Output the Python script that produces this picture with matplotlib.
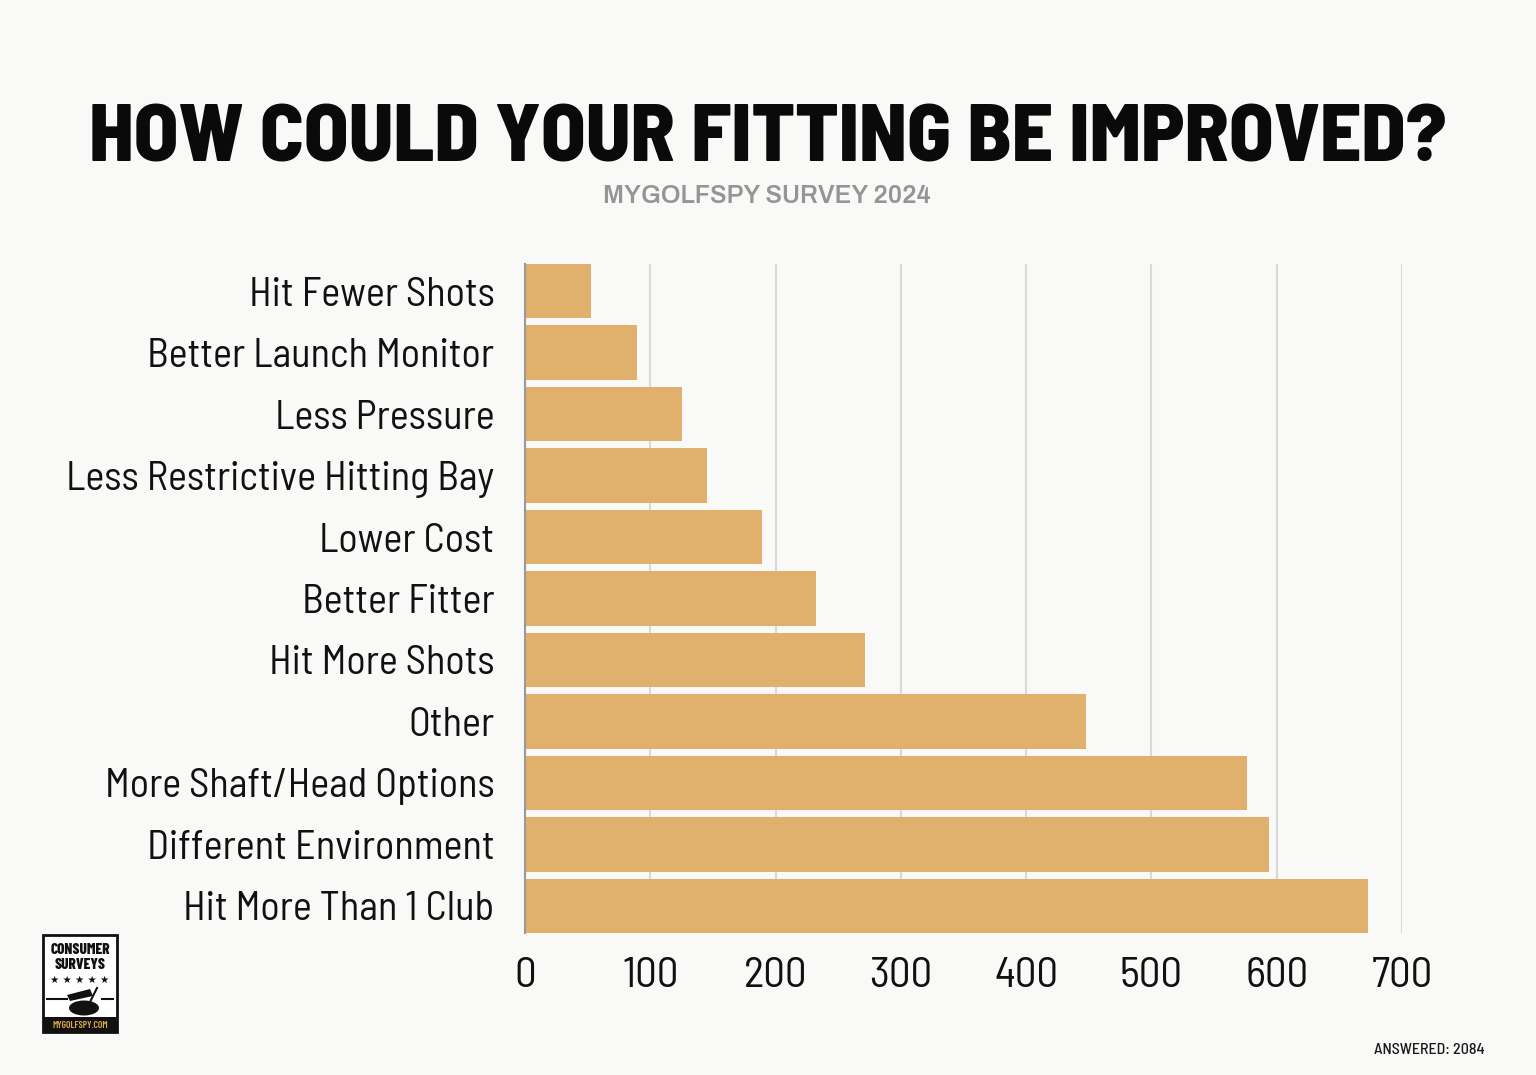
import matplotlib
matplotlib.use("Agg")
import matplotlib.pyplot as plt
from matplotlib import font_manager as fm
from matplotlib.patches import Rectangle, Ellipse, Polygon

categories = ["Hit Fewer Shots", "Better Launch Monitor", "Less Pressure",
              "Less Restrictive Hitting Bay", "Lower Cost", "Better Fitter",
              "Hit More Shots", "Other", "More Shaft/Head Options",
              "Different Environment", "Hit More Than 1 Club"]
values = [53, 89, 125, 145, 189, 232, 271, 448, 576, 594, 673]
x_ticks = [0, 100, 200, 300, 400, 500, 600, 700]
title = "HOW COULD YOUR FITTING BE IMPROVED?"
subtitle = "MYGOLFSPY SURVEY 2024"
answered = "ANSWERED: 2084"

entries = fm.fontManager.ttflist
names = {f.name for f in entries}
def pick(prefs):
    for p in prefs:
        if p in names:
            return p
    return "DejaVu Sans"
def has_bold(p):
    return any(f.name == p and f.weight in (600, 700, 800, "bold") for f in entries)
def best_weight(fam, target):
    ws = [f.weight for f in entries if f.name == fam and isinstance(f.weight, int)]
    if not ws:
        return "bold"
    return min(ws, key=lambda w: abs(w - target))

TITLE_F = pick(["Barlow Semi Condensed", "Barlow Condensed", "Roboto Condensed"])
LABEL_F = pick(["Barlow Semi Condensed", "Barlow Condensed", "Roboto Condensed"])
LOGO_F = pick(["Barlow Condensed", "Roboto Condensed"])
TITLE_W = best_weight(TITLE_F, 800)
LOGO_W = best_weight(LOGO_F, 800)

BG = "#f9f9f8"
BAR = "#e0b06c"
W, H = 1536, 1075

fig = plt.figure(figsize=(W/100, H/100), dpi=100, facecolor=BG)
renderer = fig.canvas.get_renderer()

def fit_width(t, target_px):
    w = t.get_window_extent(renderer).width
    t.set_fontsize(t.get_fontsize() * target_px / w)

ax = fig.add_axes([525/W, 1-933/H, (1402-525)/W, (933-264)/H])
ax.set_facecolor("none")
h = 0.885
ax.barh(range(len(categories)), values, height=h, color=BAR, zorder=3)
ax.set_ylim(len(categories)-1+h/2, -h/2)
ax.set_xlim(0, 700)
ax.set_xticks(x_ticks)
ax.set_xticklabels([str(t) for t in x_ticks], fontsize=31, family=LABEL_F, color="#111111")
ax.set_yticks(range(len(categories)))
ax.set_yticklabels(categories, fontsize=29, family=LABEL_F, color="#111111")
ax.tick_params(axis="x", length=0, pad=17)
ax.tick_params(axis="y", length=0, pad=22)
for s in ["top", "right", "bottom"]:
    ax.spines[s].set_visible(False)
ax.spines["left"].set_color("#9a9a9a")
ax.spines["left"].set_linewidth(1.5)
ax.spines["left"].set_zorder(4)
ax.grid(axis="x", color="#d9d9d9", linewidth=1.5, zorder=0)
ax.set_axisbelow(True)

tt = fig.text(768/W, 1-161/H, title, ha="center", va="baseline", fontsize=60,
              fontweight=TITLE_W, family=TITLE_F, color="#0a0a0a")
fit_width(tt, 1357)

# subtitle: a wide bold sans
sub_cands = [c for c in ["Lexend Exa", "Lexend Giga", "Archivo", "Red Hat Display",
                         "Poppins", "Work Sans"] if c in names and has_bold(c)]
SUB_F = sub_cands[0] if sub_cands else "DejaVu Sans"
st = fig.text(767/W, 1-203/H, subtitle, ha="center", va="baseline", fontsize=16,
              fontweight="bold", family=SUB_F, color="#959595")
sw = st.get_window_extent(renderer).width
st.set_fontsize(max(15, min(18, 16 * 371 / sw)))

fig.text(1485/W, 1-1054/H, answered, ha="right", va="baseline", fontsize=11.5,
         family=LABEL_F, fontweight="medium", color="#1a1a1a")

# logo
lx0, lx1, ly0, ly1 = 43/W, 117/W, 1-1032/H, 1-935/H
fig.patches.append(Rectangle((lx0, ly0), lx1-lx0, ly1-ly0, transform=fig.transFigure,
                             facecolor="white", edgecolor="#111111", linewidth=2, zorder=5))
fig.patches.append(Rectangle((lx0, ly0), lx1-lx0, 15/H, transform=fig.transFigure,
                             facecolor="#111111", edgecolor="#111111", linewidth=0, zorder=6))
cx = (lx0+lx1)/2
fig.text(cx, 1-950/H, "CONSUMER", ha="center", va="center", fontsize=11, fontweight=LOGO_W,
         family=LOGO_F, color="#111111", zorder=7)
fig.text(cx, 1-965/H, "SURVEYS", ha="center", va="center", fontsize=11, fontweight=LOGO_W,
         family=LOGO_F, color="#111111", zorder=7)
fig.text(cx, 1-980/H, "★ ★ ★ ★ ★", ha="center", va="center", fontsize=7.5,
         family="DejaVu Sans", color="#111111", zorder=7)
fig.text(cx, 1-1025/H, "MYGOLFSPY.COM", ha="center", va="center", fontsize=7,
         fontweight="semibold", family=LOGO_F, color="#d8a94e", zorder=7)
for xa, xb in [(47, 67), (102, 113)]:
    fig.lines.append(plt.Line2D([xa/W, xb/W], [1-999/H, 1-999/H], transform=fig.transFigure,
                                color="#111111", linewidth=1.5, zorder=7))
fig.patches.append(Ellipse((84/W, 1-1008/H), 30/W, 15/H, transform=fig.transFigure,
                           facecolor="#111111", zorder=7))
fig.patches.append(Polygon([(67/W, 1-995/H), (90/W, 1-989/H), (93/W, 1-996/H), (70/W, 1-1001/H)],
                           closed=True, transform=fig.transFigure, facecolor="#111111", zorder=7))
fig.lines.append(plt.Line2D([90/W, 97/W], [1-1002/H, 1-988/H], transform=fig.transFigure,
                            color="#111111", linewidth=1.5, zorder=7))

fig.savefig("out.png", dpi=100, facecolor=BG)
